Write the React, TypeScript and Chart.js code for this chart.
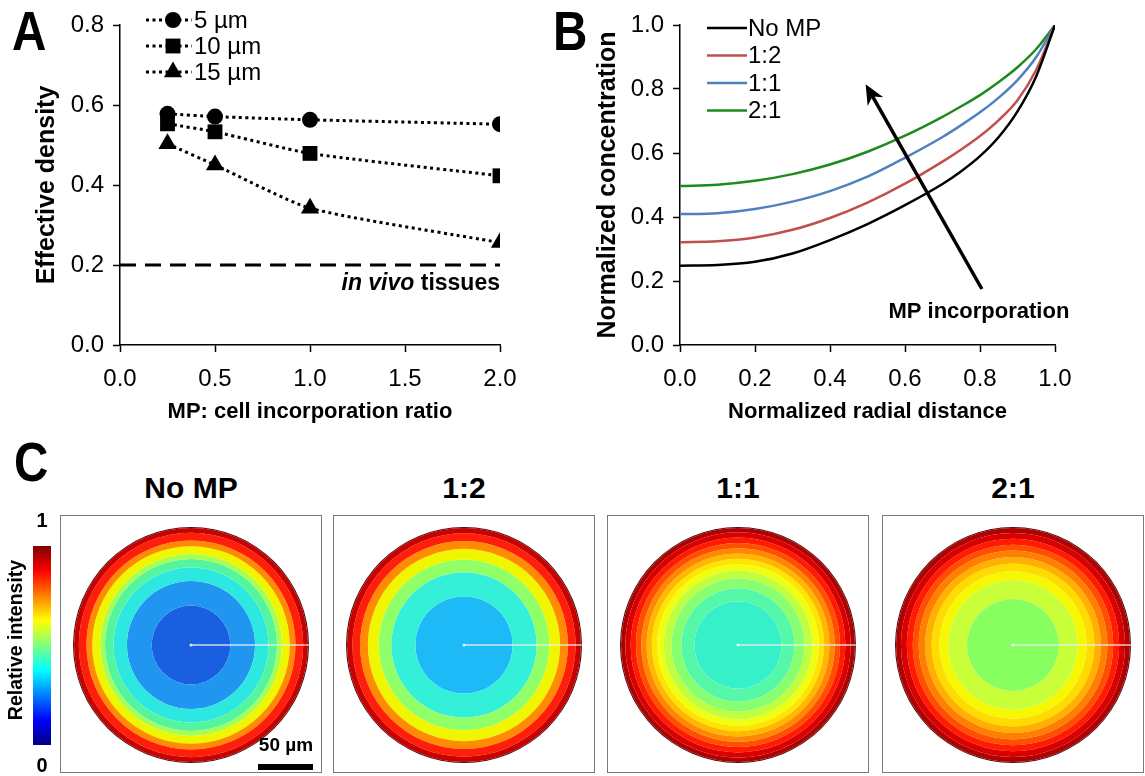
import React, { useEffect, useRef } from 'react';
import { Chart, registerables } from 'chart.js';
Chart.register(...registerables);

// ---------- DATA ----------
// Panel A
const ratioX = [0.25, 0.5, 1.0, 2.0];
const density5 = [0.578, 0.571, 0.563, 0.552];
const density10 = [0.553, 0.533, 0.479, 0.423];
const density15 = [0.503, 0.45, 0.342, 0.256];
const inVivoDensity = 0.2;
const densityLabels = ['5 µm', '10 µm', '15 µm'];

// Panel B
const radialX = [0, 0.1, 0.2, 0.3, 0.4, 0.5, 0.6, 0.7, 0.75, 0.8, 0.85, 0.9, 0.95, 1.0];
const concNoMP = [0.248, 0.25, 0.26, 0.286, 0.328, 0.378, 0.437, 0.503, 0.543, 0.59, 0.65, 0.73, 0.84, 1.0];
const conc12 = [0.321, 0.324, 0.336, 0.36, 0.397, 0.445, 0.504, 0.573, 0.611, 0.653, 0.703, 0.765, 0.86, 1.0];
const conc11 = [0.409, 0.412, 0.425, 0.448, 0.481, 0.526, 0.585, 0.65, 0.687, 0.727, 0.773, 0.828, 0.9, 1.0];
const conc21 = [0.497, 0.501, 0.513, 0.534, 0.564, 0.604, 0.654, 0.713, 0.746, 0.781, 0.822, 0.868, 0.925, 1.0];
const profileLabels = ['No MP', '1:2', '1:1', '2:1'];
const arrowFrom = [0.805, 0.175];
const arrowTo = [0.495, 0.815];
const arrowLabel = 'MP incorporation';
const arrowLabelAt = [0.797, 0.103];

// Panel C: outer edge (normalized radius) of each contour band, outside -> inside
const ringEdgesNoMP = [1.0, 0.951, 0.886, 0.837, 0.771, 0.729, 0.657, 0.543, 0.334];
const ringEdges12 = [1.0, 0.946, 0.881, 0.815, 0.724, 0.616, 0.412];
const ringEdges11 = [1.0, 0.955, 0.91, 0.865, 0.82, 0.775, 0.73, 0.685, 0.63, 0.565, 0.48, 0.37];
const ringEdges21 = [1.0, 0.95, 0.9, 0.85, 0.8, 0.745, 0.69, 0.625, 0.55, 0.39];

// ---------- STYLE ----------
const SANS = "'Liberation Sans', Arial, sans-serif";
const seriesColors = ['#000000', '#c0504d', '#4f81bd', '#1d8a1d'];
const ringColorsNoMP = ['#c80000', '#ff1e0a', '#ff8c00', '#f0f500', '#a5ff55', '#55f5a0', '#2de8e0', '#2196f0', '#1a5fe0'];
const ringColors12 = ['#c80000', '#ff1e0a', '#ff8c00', '#f0f500', '#90ff68', '#35f0d8', '#1ebaf8'];
const ringColors11 = ['#b00000', '#d80000', '#ff1a00', '#ff5000', '#ff8800', '#ffb800', '#ffe400', '#f0ff10', '#c0ff40', '#88ff70', '#55f8a8', '#35f0c8'];
const ringColors21 = ['#b00000', '#d80000', '#ff1a00', '#ff5000', '#ff8000', '#ffb000', '#ffdc00', '#f5f800', '#c8ff38', '#88ff60'];

function axis(min: number, max: number, step: number, title: string, isY: boolean, titlePad: number) {
  return {
    type: 'linear',
    min,
    max,
    ticks: {
      stepSize: step,
      autoSkip: false,
      maxRotation: 0,
      callback: (v: any) => Number(v).toFixed(1),
      color: '#000',
      font: { family: SANS, size: 24, lineHeight: 1.2 },
      padding: isY ? 9 : 13,
    },
    grid: {
      display: true,
      drawOnChartArea: false,
      drawTicks: true,
      tickLength: 7,
      tickColor: '#000',
      tickWidth: 1.5,
      color: '#000',
    },
    border: { display: true, color: '#000', width: 1.5 },
    title: {
      display: true,
      text: title,
      color: '#000',
      font: isY
        ? { family: SANS, size: 25, weight: 'bold', lineHeight: 1.2 }
        : { family: SANS, size: 22, weight: 'bold', lineHeight: 1.2 },
      padding: isY ? { top: titlePad, bottom: 0 } : { top: 0, bottom: titlePad },
    },
    afterFit: (s: any) => {
      if (isY) s.width = 120;
      else s.height = 95;
    },
  };
}

function drawMarker(ctx: CanvasRenderingContext2D, style: string, x: number, y: number, r: number) {
  ctx.beginPath();
  if (style === 'circle') {
    ctx.arc(x, y, r, 0, Math.PI * 2);
  } else if (style === 'rect') {
    const s = r * Math.SQRT1_2;
    ctx.rect(x - s, y - s, 2 * s, 2 * s);
  } else {
    ctx.moveTo(x, y - r);
    ctx.lineTo(x + r * 0.866, y + r * 0.5);
    ctx.lineTo(x - r * 0.866, y + r * 0.5);
    ctx.closePath();
  }
  ctx.fill();
}

const markerStyles = ['circle', 'rect', 'triangle'];
const markerRadii = [8, 10.5, 10.5];

function PanelA() {
  const ref = useRef<HTMLCanvasElement>(null);
  useEffect(() => {
    const series = [density5, density10, density15];
    const ds: any[] = [
      {
        label: 'in vivo',
        data: [
          { x: 0, y: inVivoDensity },
          { x: 2, y: inVivoDensity },
        ],
        borderColor: '#000',
        borderWidth: 3,
        borderDash: [16, 9],
        pointRadius: 0,
      },
    ];
    series.forEach((s, i) => {
      ds.push({
        label: densityLabels[i],
        data: ratioX.map((x, j) => ({ x, y: s[j] })),
        borderColor: '#000',
        backgroundColor: '#000',
        borderWidth: 3,
        borderDash: [3, 3.5],
        pointStyle: markerStyles[i],
        pointRadius: markerRadii[i],
        pointBorderWidth: 0,
        tension: 0.2,
      });
    });
    const plugin = {
      id: 'annA',
      afterDraw(chart: any) {
        const ctx = chart.ctx as CanvasRenderingContext2D;
        const xs = chart.scales.x;
        const ys = chart.scales.y;
        ctx.save();
        densityLabels.forEach((lab, i) => {
          const y = 20 + i * 26;
          ctx.strokeStyle = '#000';
          ctx.lineWidth = 3;
          ctx.setLineDash([3, 3.5]);
          ctx.beginPath();
          ctx.moveTo(146, y);
          ctx.lineTo(192, y);
          ctx.stroke();
          ctx.setLineDash([]);
          ctx.fillStyle = '#000';
          drawMarker(ctx, markerStyles[i], 173, y, markerRadii[i]);
          ctx.font = `24px ${SANS}`;
          ctx.textBaseline = 'middle';
          ctx.textAlign = 'left';
          ctx.fillText(lab, 194, y + 1);
        });
        const xr = xs.getPixelForValue(2.0);
        const yl = ys.getPixelForValue(inVivoDensity) + 19;
        ctx.textAlign = 'right';
        ctx.textBaseline = 'middle';
        ctx.font = `bold 23px ${SANS}`;
        const t2 = ' tissues';
        ctx.fillText(t2, xr, yl);
        const w2 = ctx.measureText(t2).width;
        ctx.font = `italic bold 23px ${SANS}`;
        ctx.fillText('in vivo', xr - w2, yl);
        ctx.restore();
      },
    };
    const chart = new Chart(ref.current!, {
      type: 'line',
      data: { datasets: ds },
      options: {
        responsive: false,
        animation: false,
        events: [],
        layout: { padding: { left: 0, top: 25, right: 60, bottom: 0 } },
        plugins: { legend: { display: false }, tooltip: { enabled: false } },
        scales: {
          x: axis(0, 2, 0.5, 'MP: cell incorporation ratio', false, 15) as any,
          y: axis(0, 0.8, 0.2, 'Effective density', true, 32) as any,
        },
      },
      plugins: [plugin],
    });
    return () => chart.destroy();
  }, []);
  return <canvas ref={ref} width={560} height={440} style={{ position: 'absolute', left: 0, top: 0 }} />;
}

function PanelB() {
  const ref = useRef<HTMLCanvasElement>(null);
  useEffect(() => {
    const series = [concNoMP, conc12, conc11, conc21];
    const ds = series.map((s, i) => ({
      label: profileLabels[i],
      data: radialX.map((x, j) => ({ x, y: s[j] })),
      borderColor: seriesColors[i],
      borderWidth: 2.5,
      pointRadius: 0,
      cubicInterpolationMode: 'monotone' as const,
    }));
    const plugin = {
      id: 'annB',
      afterDraw(chart: any) {
        const ctx = chart.ctx as CanvasRenderingContext2D;
        const xs = chart.scales.x;
        const ys = chart.scales.y;
        ctx.save();
        profileLabels.forEach((lab, i) => {
          const y = 28 + i * 27.5;
          ctx.strokeStyle = seriesColors[i];
          ctx.lineWidth = 2.5;
          ctx.beginPath();
          ctx.moveTo(147, y);
          ctx.lineTo(187, y);
          ctx.stroke();
          ctx.fillStyle = '#000';
          ctx.font = `24px ${SANS}`;
          ctx.textBaseline = 'middle';
          ctx.textAlign = 'left';
          ctx.fillText(lab, 188, y + 1);
        });
        const x1 = xs.getPixelForValue(arrowFrom[0]);
        const y1 = ys.getPixelForValue(arrowFrom[1]);
        const x2 = xs.getPixelForValue(arrowTo[0]);
        const y2 = ys.getPixelForValue(arrowTo[1]);
        const ang = Math.atan2(y2 - y1, x2 - x1);
        const hl = 20;
        const hw = 9;
        ctx.strokeStyle = '#000';
        ctx.lineWidth = 3.5;
        ctx.beginPath();
        ctx.moveTo(x1, y1);
        ctx.lineTo(x2 - Math.cos(ang) * hl * 0.6, y2 - Math.sin(ang) * hl * 0.6);
        ctx.stroke();
        ctx.fillStyle = '#000';
        ctx.beginPath();
        ctx.moveTo(x2, y2);
        const bx = x2 - Math.cos(ang) * hl;
        const by = y2 - Math.sin(ang) * hl;
        ctx.lineTo(bx + Math.sin(ang) * hw, by - Math.cos(ang) * hw);
        ctx.lineTo(x2 - Math.cos(ang) * hl * 0.7, y2 - Math.sin(ang) * hl * 0.7);
        ctx.lineTo(bx - Math.sin(ang) * hw, by + Math.cos(ang) * hw);
        ctx.closePath();
        ctx.fill();
        ctx.font = `bold 22px ${SANS}`;
        ctx.textAlign = 'center';
        ctx.textBaseline = 'middle';
        ctx.fillText(arrowLabel, xs.getPixelForValue(arrowLabelAt[0]), ys.getPixelForValue(arrowLabelAt[1]));
        ctx.restore();
      },
    };
    const chart = new Chart(ref.current!, {
      type: 'line',
      data: { datasets: ds },
      options: {
        responsive: false,
        animation: false,
        events: [],
        layout: { padding: { left: 0, top: 25, right: 90, bottom: 0 } },
        plugins: { legend: { display: false }, tooltip: { enabled: false } },
        scales: {
          x: axis(0, 1, 0.2, 'Normalized radial distance', false, 15) as any,
          y: axis(0, 1, 0.2, 'Normalized concentration', true, 33) as any,
        },
      },
      plugins: [plugin],
    });
    return () => chart.destroy();
  }, []);
  return <canvas ref={ref} width={585} height={440} style={{ position: 'absolute', left: 560, top: 0 }} />;
}

function RingChart({ edges, colors, left }: { edges: number[]; colors: string[]; left: number }) {
  const ref = useRef<HTMLCanvasElement>(null);
  useEffect(() => {
    const outline = 0.009;
    const datasets: any[] = [{ data: [1], backgroundColor: '#5a0a0a', borderWidth: 0, weight: outline }];
    edges.forEach((e, i) => {
      const inner = i + 1 < edges.length ? edges[i + 1] : 0;
      datasets.push({
        data: [1],
        backgroundColor: colors[i],
        borderWidth: 0,
        weight: i === 0 ? e - inner - outline : e - inner,
      });
    });
    const plugin = {
      id: 'profile',
      afterDatasetsDraw(chart: any) {
        const arc = chart.getDatasetMeta(0).data[0];
        if (!arc) return;
        const { x, y, outerRadius } = arc.getProps(['x', 'y', 'outerRadius'], true);
        const ctx = chart.ctx as CanvasRenderingContext2D;
        ctx.save();
        ctx.strokeStyle = 'rgba(235,235,235,0.85)';
        ctx.lineWidth = 1.3;
        ctx.beginPath();
        ctx.moveTo(x, y);
        ctx.lineTo(x + outerRadius, y);
        ctx.stroke();
        ctx.fillStyle = 'rgba(240,240,240,0.9)';
        ctx.beginPath();
        ctx.arc(x, y, 1.6, 0, Math.PI * 2);
        ctx.fill();
        ctx.restore();
      },
    };
    const chart = new Chart(ref.current!, {
      type: 'doughnut',
      data: { labels: ['c'], datasets },
      options: {
        responsive: false,
        animation: false,
        events: [],
        cutout: 0,
        radius: '100%',
        layout: { padding: 0 },
        plugins: { legend: { display: false }, tooltip: { enabled: false } },
      } as any,
      plugins: [plugin],
    });
    return () => chart.destroy();
  }, []);
  return (
    <div style={{ position: 'absolute', left, top: 515, width: 260, height: 256, border: '1px solid #7a7a7a' }}>
      <canvas ref={ref} width={236} height={236} style={{ position: 'absolute', left: 12, top: 11 }} />
    </div>
  );
}

const letterStyle: React.CSSProperties = {
  position: 'absolute',
  fontFamily: SANS,
  fontWeight: 'bold',
  fontSize: 56,
  lineHeight: '56px',
  transform: 'scaleX(0.85)',
  transformOrigin: 'left top',
  color: '#000',
};

const titleStyle: React.CSSProperties = {
  position: 'absolute',
  top: 470,
  width: 262,
  textAlign: 'center',
  fontFamily: SANS,
  fontWeight: 'bold',
  fontSize: 30,
  lineHeight: '36px',
  color: '#000',
};

export default function App() {
  const boxLefts = [60, 333, 607, 882];
  const rings = [
    { edges: ringEdgesNoMP, colors: ringColorsNoMP },
    { edges: ringEdges12, colors: ringColors12 },
    { edges: ringEdges11, colors: ringColors11 },
    { edges: ringEdges21, colors: ringColors21 },
  ];
  return (
    <div style={{ position: 'absolute', left: 0, top: 0, width: 1145, height: 776, background: '#fff', overflow: 'hidden' }}>
      <PanelA />
      <PanelB />
      <div style={{ ...letterStyle, left: 12, top: 3 }}>A</div>
      <div style={{ ...letterStyle, left: 553, top: 3 }}>B</div>
      <div style={{ ...letterStyle, left: 14, top: 434 }}>C</div>
      {rings.map((r, i) => (
        <RingChart key={i} edges={r.edges} colors={r.colors} left={boxLefts[i]} />
      ))}
      {profileLabels.map((t, i) => (
        <div key={t} style={{ ...titleStyle, left: boxLefts[i] }}>
          {t}
        </div>
      ))}
      <div
        style={{
          position: 'absolute',
          left: 33,
          top: 546,
          width: 18,
          height: 199,
          background: 'linear-gradient(to top, #00007f 0%, #0000ff 12.5%, #00ffff 37.5%, #ffff00 62.5%, #ff0000 87.5%, #7f0000 100%)',
        }}
      />
      <div style={{ position: 'absolute', left: 33, top: 509, width: 18, textAlign: 'center', fontFamily: SANS, fontWeight: 'bold', fontSize: 20 }}>1</div>
      <div style={{ position: 'absolute', left: 33, top: 754, width: 18, textAlign: 'center', fontFamily: SANS, fontWeight: 'bold', fontSize: 20 }}>0</div>
      <div
        style={{
          position: 'absolute',
          left: 15,
          top: 640,
          fontFamily: SANS,
          fontWeight: 'bold',
          fontSize: 19.5,
          whiteSpace: 'nowrap',
          transform: 'translate(-50%, -50%) rotate(-90deg)',
        }}
      >
        Relative intensity
      </div>
      <div style={{ position: 'absolute', left: 255, top: 734, width: 62, textAlign: 'center', fontFamily: SANS, fontWeight: 'bold', fontSize: 19, whiteSpace: 'nowrap' }}>
        50 µm
      </div>
      <div style={{ position: 'absolute', left: 258, top: 764, width: 55, height: 6, background: '#000' }} />
    </div>
  );
}
